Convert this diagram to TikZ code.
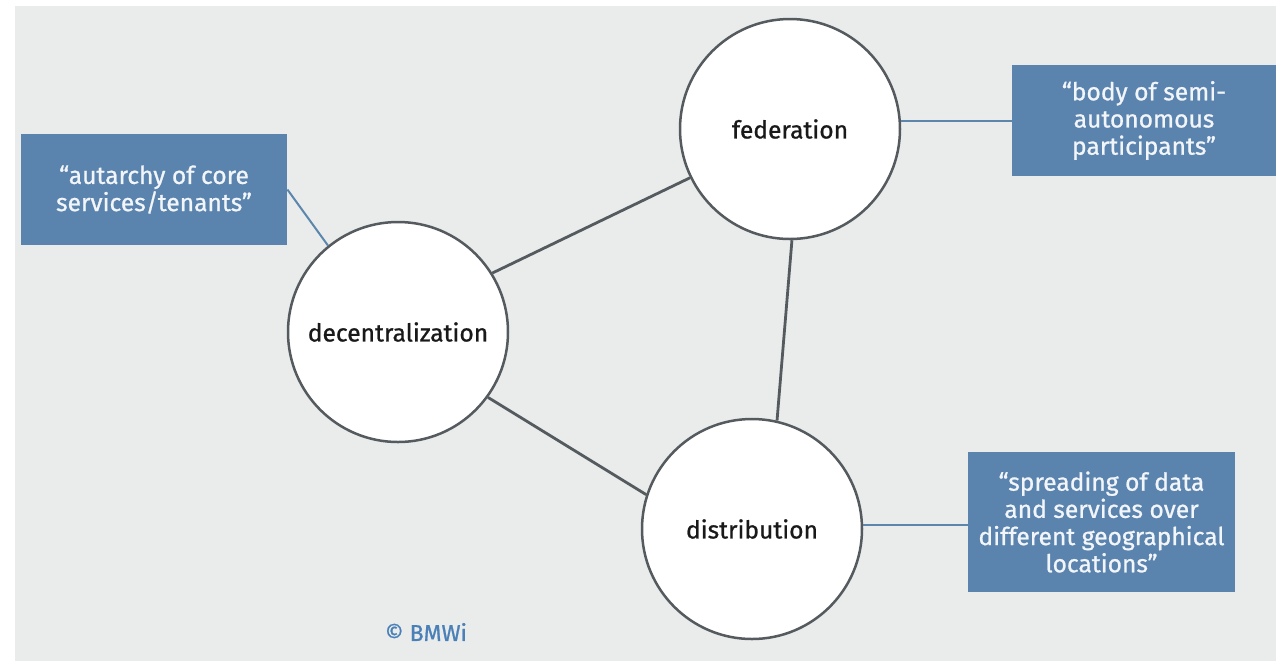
\documentclass[tikz,border=0pt]{standalone}
\usepackage{fontspec}
\setmainfont{Fira Sans}
\newfontfamily\semib[FakeBold=0.9]{Fira Sans}
\definecolor{panel}{HTML}{E9ECEB}
\definecolor{boxblue}{HTML}{5A83AD}
\definecolor{boxtext}{HTML}{F2F5F9}
\definecolor{ringgrey}{HTML}{555A5E}
\definecolor{linkblue}{HTML}{5D86AC}
\definecolor{copyblue}{HTML}{4A80B8}
\begin{document}
\begin{tikzpicture}[x=0.5pt,y=-0.5pt,
  concept/.style={circle,draw=ringgrey,line width=1.25pt,fill=white,minimum size=110pt,inner sep=0pt,
    text=black!90,font=\semib\fontsize{12.3}{14}\selectfont},
  quote/.style={rectangle,fill=boxblue,text=boxtext,align=center,inner sep=0pt,
    font=\semib\fontsize{12.3}{13.6}\selectfont},
  link/.style={draw=ringgrey,line width=1.4pt},
  tie/.style={draw=linkblue,line width=1pt}]
\useasboundingbox (0,0) rectangle (1276,661);
\fill[panel] (15,6) rectangle (1276,661);
% concept circles
\node[concept] (dec) at (398,332) {decentralization};
\node[concept] (fed) at (790,129) {federation};
\node[concept] (dist) at (752,529) {distribution};
% quote boxes
\node[quote,minimum width=133pt,minimum height=55.5pt] (lbox) at (154,189.5)
  {“autarchy of core\\services/tenants”};
\node[quote,minimum width=132pt,minimum height=55.5pt] (trbox) at (1144,120.5)
  {“body of semi-\\autonomous\\participants”};
\node[quote,minimum width=133.5pt,minimum height=70pt] (brbox) at (1101.5,522)
  {“spreading of data\\and services over\\different geographical\\locations”};
% links between circles
\draw[link] (dec.32) -- (fed.206);
\draw[link] (fed.271) -- (dist.77);
\draw[link] (dec.-36) -- (dist.162);
% ties to boxes
\draw[tie] (lbox.east) -- (dec.129);
\draw[tie] (fed.4) -- (fed.4 -| trbox.west);
\draw[tie] (dist.2) -- (dist.2 -| brbox.west);
% copyright
\node[text=copyblue,font=\semib\fontsize{11.5}{13}\selectfont] (copy) at (426,632) {© BMWi};
\end{tikzpicture}
\end{document}
